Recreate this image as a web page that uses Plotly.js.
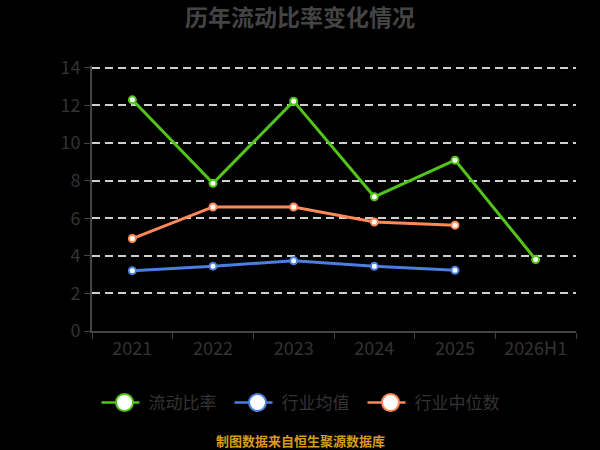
<!DOCTYPE html>
<html>
<head>
<meta charset="utf-8">
<script src="https://cdn.plot.ly/plotly-3.0.1.min.js"></script>
<style>
  html, body { margin: 0; padding: 0; background: #000; }
  #chart { width: 600px; height: 450px; }
</style>
</head>
<body>
<div id="chart"></div>
<script>
// Data
const years = ['2021', '2022', '2023', '2024', '2025', '2026H1'];
const currentRatio = [12.30, 7.86, 12.23, 7.14, 9.09, 3.80];   // 流动比率
const industryMean = [3.21, 3.45, 3.74, 3.44, 3.23];           // 行业均值
const industryMedian = [4.92, 6.60, 6.60, 5.80, 5.63];         // 行业中位数

const FONT = '"Noto Sans CJK SC", "Noto Sans", sans-serif';

function makeTrace(name, y, color) {
    return {
        x: years.slice(0, y.length),
        y: y,
        name: name,
        type: 'scatter',
        mode: 'lines+markers',
        line: { color: color, width: 3 },
        marker: { size: 7, color: '#fff', line: { color: color, width: 2 } },
        hoverinfo: 'x+y'
    };
}

const traces = [
    makeTrace('流动比率', currentRatio, '#52c41a'),
    makeTrace('行业均值', industryMean, '#4a7fe0'),
    makeTrace('行业中位数', industryMedian, '#ff8a57')
];

const layout = {
    width: 600,
    height: 450,
    paper_bgcolor: '#000',
    plot_bgcolor: '#000',
    font: { family: FONT, color: '#333', size: 17 },
    margin: { l: 92, r: 24, t: 66, b: 119 },
    title: {
        text: '<b>历年流动比率变化情况</b>',
        font: { family: FONT, size: 23, color: '#444' },
        x: 0.5, xanchor: 'center',
        y: 1 - 18 / 450, yanchor: 'middle'
    },
    xaxis: {
        type: 'category',
        categoryarray: years,
        range: [-0.5, 5.5],
        tickson: 'boundaries',
        ticks: 'outside',
        ticklen: 6,
        tickcolor: '#444',
        showline: true,
        linecolor: '#444',
        linewidth: 2,
        showgrid: false,
        tickfont: { family: FONT, size: 18, color: '#333' },
        fixedrange: true
    },
    yaxis: {
        range: [0, 14.1],   // a little headroom so the 14 gridline is kept
        tickvals: [0, 2, 4, 6, 8, 10, 12, 14],
        ticks: 'outside',
        ticklen: 6,
        tickcolor: '#444',
        showline: true,
        linecolor: '#444',
        linewidth: 2,
        gridcolor: '#cfcfcf',
        griddash: '8px,5px',
        gridwidth: 1.5,
        zeroline: false,
        tickfont: { family: FONT, size: 18, color: '#333' },
        fixedrange: true
    },
    showlegend: true,
    legend: {
        orientation: 'h',
        xref: 'container', x: 0.5, xanchor: 'center',
        yref: 'container', y: 1 - 403 / 450, yanchor: 'middle',
        font: { family: FONT, size: 17, color: '#333' },
        bgcolor: 'rgba(0,0,0,0)',
        itemwidth: 38,
        entrywidth: 80,
        itemclick: false,
        itemdoubleclick: false
    },
    annotations: [{
        text: '<b>制图数据来自恒生聚源数据库</b>',
        xref: 'paper', yref: 'paper',
        x: (300 - 92) / 484, y: (331 - 440) / 265,
        xanchor: 'center', yanchor: 'middle',
        showarrow: false,
        font: { family: FONT, size: 13, color: '#d49b1c' }
    }]
};

// Enlarge the legend symbols to match the big hollow circles of the original
function styleLegend(gd) {
    const r = 8.5;
    const d = 'M' + r + ',0A' + r + ',' + r + ' 0 1,1 0,-' + r + 'A' + r + ',' + r + ' 0 0,1 ' + r + ',0Z';
    gd.querySelectorAll('.legendpoints path').forEach(function (p) {
        p.setAttribute('d', d);
        p.style.strokeWidth = '2px';
    });
    gd.querySelectorAll('.legendlines path').forEach(function (p) {
        p.setAttribute('d', 'M1,0h38');
        p.style.strokeWidth = '2.5px';
    });
}

const gd = document.getElementById('chart');
Plotly.newPlot(gd, traces, layout, { displayModeBar: false }).then(function () {
    styleLegend(gd);
    setTimeout(function () { styleLegend(gd); }, 50);
});
</script>
</body>
</html>
